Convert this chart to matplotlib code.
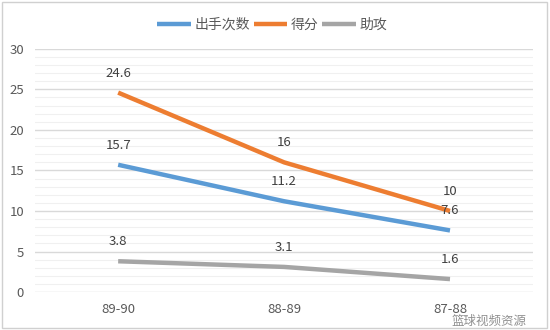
import matplotlib.pyplot as plt
from matplotlib.patches import Rectangle

plt.rcParams['font.family'] = ['Noto Sans CJK SC', 'DejaVu Sans']

seasons = ['89-90', '88-89', '87-88']
shots = [15.7, 11.2, 7.6]
points = [24.6, 16, 10]
assists = [3.8, 3.1, 1.6]

series = [
    ('出手次数', shots, '#5B9BD5'),
    ('得分', points, '#ED7D31'),
    ('助攻', assists, '#A5A5A5'),
]

fig = plt.figure(figsize=(5.5, 3.3), dpi=100)
ax = fig.add_axes([0.064, 0.115, 0.905, 0.737])

x = range(len(seasons))
for name, vals, color in series:
    ax.plot(x, vals, color=color, lw=3.2, label=name, solid_capstyle='butt', zorder=3)
    for xi, v in zip(x, vals):
        ax.annotate(f'{v:g}', (xi, v), xytext=(0, 14), textcoords='offset points',
                    ha='center', va='center', fontsize=9.5, color='#404040', zorder=4)

ax.set_xlim(-0.5, 2.5)
ax.set_ylim(0, 30)
ax.set_yticks(range(0, 31, 5))
ax.set_yticks(range(0, 31), minor=True)
ax.set_xticks(list(x))
ax.set_xticklabels(seasons)
ax.grid(axis='y', which='major', color='#d9d9d9', lw=1)
ax.grid(axis='y', which='minor', color='#f0f0f0', lw=0.8)
ax.set_axisbelow(True)
for s in ax.spines.values():
    s.set_visible(False)
ax.tick_params(axis='both', which='both', length=0, labelsize=9.5, colors='#595959')
ax.tick_params(axis='x', pad=8)
ax.tick_params(axis='y', pad=8)

ax.legend(loc='lower center', bbox_to_anchor=(0.476, 1.02), ncol=3, frameon=False,
          fontsize=10, handlelength=2.4, handletextpad=0.25, columnspacing=0.3,
          labelcolor='#595959')

# outer frame of the chart
fig.patches.append(Rectangle((0.004, 0.006), 0.99, 0.988, transform=fig.transFigure,
                             fill=False, edgecolor='#d0d0d0', lw=1))

# watermark in the lower right corner
fig.text(0.89, 0.026, '篮球视频资源', ha='center', va='center', fontsize=9,
         color='#909090')

fig.savefig('out.png', dpi=100)
